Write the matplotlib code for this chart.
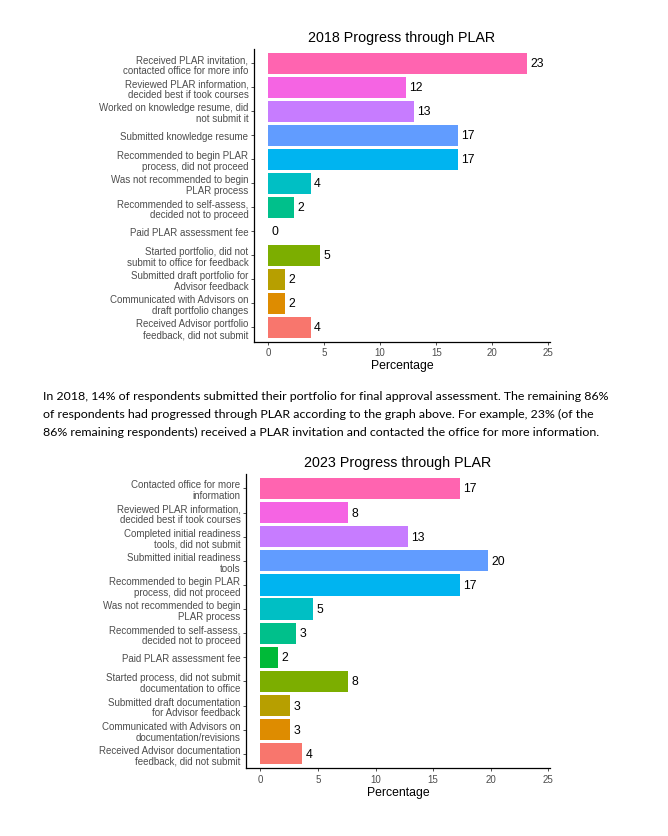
import matplotlib
matplotlib.use("Agg")
import matplotlib.pyplot as plt

# ---------------- data ----------------
cats_2018 = [
    "Received PLAR invitation,\ncontacted office for more info",
    "Reviewed PLAR information,\ndecided best if took courses",
    "Worked on knowledge resume, did\nnot submit it",
    "Submitted knowledge resume",
    "Recommended to begin PLAR\nprocess, did not proceed",
    "Was not recommended to begin\nPLAR process",
    "Recommended to self-assess,\ndecided not to proceed",
    "Paid PLAR assessment fee",
    "Started portfolio, did not\nsubmit to office for feedback",
    "Submitted draft portfolio for\nAdvisor feedback",
    "Communicated with Advisors on\ndraft portfolio changes",
    "Received Advisor portfolio\nfeedback, did not submit",
]
vals_2018 = [23.1, 12.3, 13.0, 16.9, 16.9, 3.8, 2.3, 0.0, 4.6, 1.55, 1.55, 3.8]

cats_2023 = [
    "Contacted office for more\ninformation",
    "Reviewed PLAR information,\ndecided best if took courses",
    "Completed initial readiness\ntools, did not submit",
    "Submitted initial readiness\ntools",
    "Recommended to begin PLAR\nprocess, did not proceed",
    "Was not recommended to begin\nPLAR process",
    "Recommended to self-assess,\ndecided not to proceed",
    "Paid PLAR assessment fee",
    "Started process, did not submit\ndocumentation to office",
    "Submitted draft documentation\nfor Advisor feedback",
    "Communicated with Advisors on\ndocumentation/revisions",
    "Received Advisor documentation\nfeedback, did not submit",
]
vals_2023 = [17.3, 7.6, 12.8, 19.8, 17.3, 4.6, 3.1, 1.5, 7.6, 2.6, 2.6, 3.6]

colors = ["#FF64B0", "#F564E3", "#C77CFF", "#619CFF", "#00B4F0", "#00BFC4",
          "#00C08B", "#00BA38", "#7CAE00", "#B79F00", "#DE8C00", "#F8766D"]

xticks = [0, 5, 10, 15, 20, 25]
titles = ["2018 Progress through PLAR", "2023 Progress through PLAR"]
xlabel = "Percentage"
paragraph = [
    "In 2018, 14% of respondents submitted their portfolio for final approval assessment. The remaining 86%",
    "of respondents had progressed through PLAR according to the graph above. For example, 23% (of the",
    "86% remaining respondents) received a PLAR invitation and contacted the office for more information.",
]

# ---------------- figure ----------------
W, H = 668, 837
fig = plt.figure(figsize=(W / 100, H / 100), dpi=100)
fig.patch.set_facecolor("white")

FONT = "Liberation Sans"


def px_rect(l, t, r, b):
    return [l / W, 1 - b / H, (r - l) / W, (b - t) / H]


def draw(ax, cats, vals, title):
    n = len(cats)
    ypos = list(range(n))
    ax.barh(ypos, vals, height=0.88, color=colors, edgecolor="none", zorder=2)
    for y, v in zip(ypos, vals):
        ax.annotate(f"{v:.0f}", xy=(v, y), xytext=(2.5, 0), textcoords="offset points",
                    ha="left", va="center", fontsize=8.8, color="black", family=FONT)
    ax.set_ylim(n - 1 + 0.6, -0.6)
    ax.set_xlim(-1.25, 25.15)
    ax.set_yticks(ypos)
    ax.set_yticklabels(cats, fontsize=7.0, color="#4D4D4D", family=FONT, linespacing=1.1)
    ax.set_xticks(xticks)
    ax.set_xticklabels([str(t) for t in xticks], fontsize=7.0, color="#4D4D4D", family=FONT)
    ax.tick_params(axis="both", length=2.5, width=0.6, color="#333333", pad=1.5)
    for s in ["top", "right"]:
        ax.spines[s].set_visible(False)
    for s in ["left", "bottom"]:
        ax.spines[s].set_linewidth(0.9)
        ax.spines[s].set_color("black")
    ax.set_title(title, fontsize=10.3, family=FONT, color="black", pad=6)
    ax.set_xlabel(xlabel, fontsize=8.8, family=FONT, color="black", labelpad=1.5)


ax1 = fig.add_axes(px_rect(254, 50, 550, 342.7))
draw(ax1, cats_2018, vals_2018, titles[0])

ax2 = fig.add_axes(px_rect(246, 475, 550, 769.3))
draw(ax2, cats_2023, vals_2023, titles[1])

for i, line in enumerate(paragraph):
    y = 397 + i * 17.5
    fig.text(43 / W, 1 - y / H, line, ha="left", va="center", fontsize=8.9,
             family=["Lato", "DejaVu Sans"], color="black")

fig.savefig("out.png", dpi=100, facecolor="white")
